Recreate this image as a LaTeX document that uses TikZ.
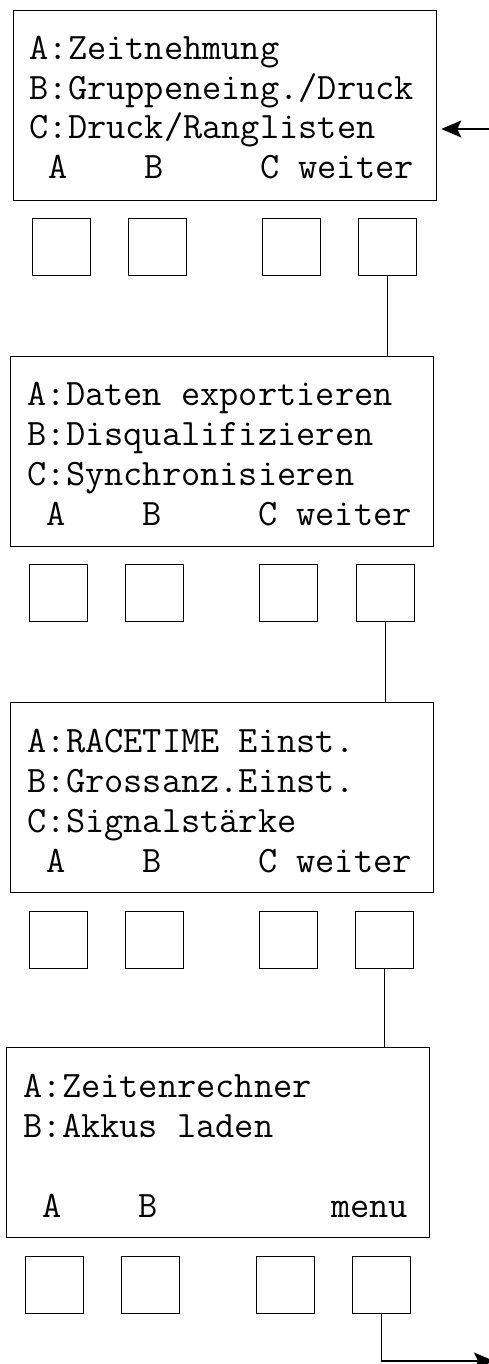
\documentclass[tikz,border=0pt]{standalone}
\usepackage{fontspec}
\usetikzlibrary{arrows.meta}
\begin{document}
\begin{tikzpicture}[x=1pt,y=-1pt,
  line width=1.3pt,
  screen/.style={draw,rectangle,minimum width=423pt,minimum height=190pt,inner sep=0pt,anchor=north west},
  key/.style={draw,rectangle,minimum width=58pt,minimum height=57pt,inner sep=0pt,anchor=north west},
  lcd/.style={inner sep=0pt,anchor=base west,font=\ttfamily\fontsize{37.3}{40}\selectfont},
  link/.style={line width=1.3pt},
  flow/.style={line width=1.3pt,-{Stealth[length=20pt,width=17pt,inset=4pt]}}]
\useasboundingbox (0,0) rectangle (489,1364);

% menu page 1
\node[screen] (s1) at (13,10) {};
\node[lcd] (s1a) at (29,60)  {A:Zeitnehmung};
\node[lcd] (s1b) at (29,100) {B:Gruppeneing./Druck};
\node[lcd] (s1c) at (29,139) {C:Druck/Ranglisten};
\node[lcd] (s1k) at (29,179) {~A~~~~B~~~~~C~weiter};
\node[key] (k11) at (32,218) {};
\node[key] (k12) at (128,218) {};
\node[key] (k13) at (262,218) {};
\node[key] (k14) at (358,218) {};

% menu page 2
\node[screen] (s2) at (10,356) {};
\node[lcd] (s2a) at (27,405) {A:Daten exportieren};
\node[lcd] (s2b) at (27,445) {B:Disqualifizieren};
\node[lcd] (s2c) at (27,485) {C:Synchronisieren};
\node[lcd] (s2k) at (27,525) {~A~~~~B~~~~~C~weiter};
\node[key] (k21) at (29,564) {};
\node[key] (k22) at (125,564) {};
\node[key] (k23) at (259,564) {};
\node[key] (k24) at (356,564) {};

% menu page 3
\node[screen] (s3) at (10,702) {};
\node[lcd] (s3a) at (27,752) {A:RACETIME Einst.};
\node[lcd] (s3b) at (27,792) {B:Grossanz.Einst.};
\node[lcd] (s3c) at (27,832) {C:Signalstärke};
\node[lcd] (s3k) at (27,872) {~A~~~~B~~~~~C~weiter};
\node[key] (k31) at (29,911) {};
\node[key] (k32) at (125,911) {};
\node[key] (k33) at (259,911) {};
\node[key] (k34) at (355,911) {};

% menu page 4
\node[screen] (s4) at (6,1047) {};
\node[lcd] (s4a) at (23,1097) {A:Zeitenrechner};
\node[lcd] (s4b) at (23,1137) {B:Akkus laden};
\node[lcd] (s4k) at (23,1217) {~A~~~~B~~~~~~~~~menu};
\node[key] (k41) at (25,1256) {};
\node[key] (k42) at (121,1256) {};
\node[key] (k43) at (256,1256) {};
\node[key] (k44) at (352,1256) {};

% "weiter" keys lead to the next page
\draw[link] (k14.south) -- (k14.south |- s2.north);
\draw[link] (k24.south) -- (k24.south |- s3.north);
\draw[link] (k34.south) -- (k34.south |- s4.north);

% return to the main menu
\coordinate (entry) at (489,129);
\coordinate (exit) at (494,1361);
\draw[flow] (entry) -- ([xshift=4pt]s1.east |- entry);
\draw[flow] (k44.south) |- (exit);
\end{tikzpicture}
\end{document}
